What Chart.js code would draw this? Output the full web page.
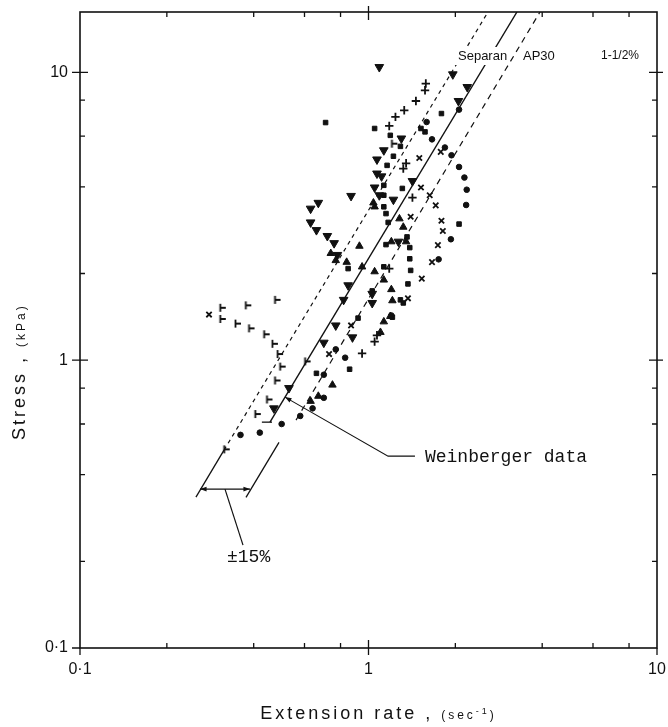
<!DOCTYPE html>
<html>
<head>
<meta charset="utf-8">
<script src="https://cdn.jsdelivr.net/npm/chart.js@4/dist/chart.umd.min.js"></script>
<style>
html, body { margin: 0; padding: 0; background: #fff; }
#wrap { width: 668px; height: 727px; position: relative; }
</style>
</head>
<body>
<div id="wrap"><canvas id="myChart"></canvas></div>
<script>
// tick labels
var xTicks = [0.1, 1, 10];
var xTickLabels = ['0·1', '1', '10'];
var yTicks = [0.1, 1, 10];
var yTickLabels = ['0·1', '1', '10'];
var minorSteps = [2, 4, 6, 8];

// measured points, [extension rate, stress]
var downTri = [[1.09,10.43],[1.96,9.84],[2.20,8.89],[2.05,7.95],[1.30,5.89],[1.13,5.36],[1.07,4.98],
  [1.07,4.45],[1.11,4.35],[1.42,4.19],[1.05,3.98],[0.87,3.72],[1.09,3.74],[1.22,3.61],[0.67,3.52],
  [0.63,3.36],[0.63,3.01],[0.66,2.83],[0.72,2.70],[0.76,2.55],[1.27,2.58],[0.78,2.32],[0.85,1.82],
  [1.03,1.70],[1.03,1.58],[0.82,1.62],[0.77,1.32],[0.88,1.20],[0.70,1.15],[0.53,0.80],[0.47,0.68]];
var upTri = [[1.04,3.52],[1.05,3.41],[1.28,3.10],[1.32,2.90],[0.93,2.49],[1.35,2.58],[0.74,2.35],
  [0.84,2.19],[0.77,2.22],[0.95,2.11],[1.05,2.03],[1.13,1.90],[1.20,1.76],[1.21,1.61],[1.19,1.42],
  [1.13,1.36],[1.10,1.25],[0.75,0.82],[0.67,0.75],[0.63,0.72],[1.20,2.58]];
var squares = [[0.71,6.69],[1.79,7.19],[1.05,6.38],[1.52,6.38],[1.57,6.21],[1.19,6.04],[1.29,5.53],
  [1.22,5.11],[1.16,4.75],[1.13,4.05],[1.31,3.95],[1.13,3.74],[1.13,3.41],[1.15,3.23],[1.17,3.01],
  [2.06,2.97],[1.36,2.68],[1.15,2.52],[1.39,2.46],[1.39,2.25],[0.85,2.08],[1.40,2.05],[1.13,2.11],
  [1.37,1.84],[1.03,1.74],[1.29,1.62],[1.32,1.58],[0.92,1.40],[1.21,1.41],[0.86,0.93],[0.66,0.90]];
var circles = [[2.06,7.42],[1.59,6.72],[1.66,5.85],[1.84,5.48],[1.94,5.15],[2.06,4.69],[2.15,4.31],
  [2.19,3.91],[2.18,3.46],[1.93,2.63],[1.75,2.24],[1.20,1.43],[0.77,1.09],[0.83,1.02],[0.70,0.89],
  [0.70,0.74],[0.64,0.68],[0.58,0.64],[0.50,0.60],[0.42,0.56],[0.36,0.55]];
var plusPts = [[1.58,9.14],[1.57,8.66],[1.46,7.95],[1.33,7.38],[1.24,7.00],[1.18,6.51],[1.42,3.67],
  [1.18,2.08],[1.35,4.83],[1.32,4.63],[0.95,1.055],[1.07,1.22],[1.05,1.16]];
var crossPts = [[1.78,5.29],[1.50,5.04],[1.52,3.98],[1.63,3.74],[1.71,3.45],[1.40,3.15],[1.79,3.05],
  [1.81,2.81],[1.74,2.51],[1.66,2.19],[1.53,1.92],[1.37,1.64],[0.87,1.32],[0.73,1.05],[0.28,1.44]];
var tickPts = [[1.22,5.65],[0.31,1.52],[0.38,1.55],[0.48,1.62],[0.31,1.39],[0.35,1.34],[0.39,1.29],
  [0.44,1.23],[0.47,1.14],[0.49,1.05],[0.50,0.95],[0.48,0.85],[0.45,0.73],[0.41,0.65],[0.32,0.49],
  [0.61,0.99]];

// Weinberger line and the +/-15% band
var weinLine = [[0.4556,0.609],[3.27,16.2]];
var weinFoot = [[0.427,0.609],[0.463,0.609]];
var bandLowSolid = [[0.2523,0.3344],[0.3156,0.487]];
var bandLowDash = [[0.3156,0.487],[2.595,16.2]];
var bandHighSolid = [[0.3762,0.3337],[0.4895,0.5178]];
var bandHighDash = [[0.5607,0.619],[3.93,16.2]];
var weinLeader = [[0.5135,0.744],[1.169,0.464],[1.449,0.464]];
var bandBar = [[0.2606,0.3565],[0.3884,0.3565]];
var bandLeader = [[0.3181,0.3565],[0.3673,0.2278]];

function toXY(arr) {
  return arr.map(function(p) { return {x: p[0], y: p[1]}; });
}

var ink = '#111';

// little "|-" marker
var tickMark = document.createElement('canvas');
tickMark.width = 10; tickMark.height = 10;
(function() {
  var c = tickMark.getContext('2d');
  c.strokeStyle = ink; c.lineWidth = 1.8;
  c.beginPath();
  c.moveTo(3.5, 1); c.lineTo(3.5, 9);
  c.moveTo(3.5, 5); c.lineTo(9, 5);
  c.stroke();
})();

function pts(arr, style, r, extra) {
  var d = {data: toXY(arr), pointStyle: style, pointRadius: r, backgroundColor: ink,
    borderColor: ink, pointBorderWidth: 1, showLine: false};
  for (var k in extra) d[k] = extra[k];
  return d;
}
function seg(arr, dash, w) {
  return {data: toXY(arr), showLine: true, pointRadius: 0, borderColor: ink,
    borderWidth: w || 1.3, borderDash: dash || [], fill: false};
}

var frame = {
  id: 'frame',
  afterDatasetsDraw: function(chart) {
    var ctx = chart.ctx, a = chart.chartArea;
    var xs = chart.scales.x, ys = chart.scales.y;
    ctx.save();

    // label sits in a gap of the lines
    ctx.fillStyle = '#fff';
    ctx.fillRect(455, 47, 55, 18);

    ctx.strokeStyle = ink;
    ctx.lineWidth = 1.6;
    ctx.strokeRect(a.left, a.top, a.right - a.left, a.bottom - a.top);

    ctx.lineWidth = 1.3;
    ctx.beginPath();
    [0.1, 1].forEach(function(dec) {
      minorSteps.forEach(function(m) {
        var px = xs.getPixelForValue(dec * m);
        ctx.moveTo(px, a.bottom); ctx.lineTo(px, a.bottom - 5);
        ctx.moveTo(px, a.top); ctx.lineTo(px, a.top + 5);
      });
    });
    [0.1, 1, 10].forEach(function(dec) {
      minorSteps.forEach(function(m) {
        var v = dec * m;
        if (v > ys.max) return;
        var py = ys.getPixelForValue(v);
        ctx.moveTo(a.left, py); ctx.lineTo(a.left + 5, py);
        ctx.moveTo(a.right, py); ctx.lineTo(a.right - 5, py);
      });
    });
    xTicks.forEach(function(v, i) {
      var px = xs.getPixelForValue(v);
      ctx.moveTo(px, a.bottom + 7);
      ctx.lineTo(px, i === 0 || i === xTicks.length - 1 ? a.bottom : a.bottom - 8);
      if (i > 0 && i < xTicks.length - 1) {
        ctx.moveTo(px, a.top - 6); ctx.lineTo(px, a.top + 8);
      }
    });
    yTicks.forEach(function(v, i) {
      var py = ys.getPixelForValue(v);
      ctx.moveTo(a.left - 8, py);
      ctx.lineTo(i === 0 ? a.left : a.left + 8, py);
      if (i > 0) { ctx.moveTo(a.right - 8, py); ctx.lineTo(a.right + 6, py); }
    });
    ctx.stroke();

    // arrowheads
    function arrow(x0, y0, x1, y1) {
      var ang = Math.atan2(y1 - y0, x1 - x0);
      ctx.beginPath();
      ctx.moveTo(x1, y1);
      ctx.lineTo(x1 - 7 * Math.cos(ang - 0.35), y1 - 7 * Math.sin(ang - 0.35));
      ctx.lineTo(x1 - 7 * Math.cos(ang + 0.35), y1 - 7 * Math.sin(ang + 0.35));
      ctx.closePath();
      ctx.fillStyle = ink;
      ctx.fill();
    }
    function P(p) { return [xs.getPixelForValue(p[0]), ys.getPixelForValue(p[1])]; }
    var w0 = P(weinLeader[1]), w1 = P(weinLeader[0]);
    arrow(w0[0], w0[1], w1[0], w1[1]);
    var b0 = P(bandBar[0]), b1 = P(bandBar[1]);
    arrow(b1[0], b1[1], b0[0], b0[1]);
    arrow(b0[0], b0[1], b1[0], b1[1]);

    ctx.fillStyle = ink;
    ctx.textBaseline = 'middle';

    // tick labels
    ctx.font = '16px "Liberation Sans", Arial, sans-serif';
    ctx.textAlign = 'center';
    xTicks.forEach(function(v, i) {
      ctx.fillText(xTickLabels[i], xs.getPixelForValue(v), a.bottom + 22);
    });
    ctx.textAlign = 'right';
    yTicks.forEach(function(v, i) {
      ctx.fillText(yTickLabels[i], a.left - 12, ys.getPixelForValue(v));
    });

    // annotations
    ctx.textAlign = 'left';
    ctx.font = '13px "Liberation Sans", Arial, sans-serif';
    ctx.fillText('Separan', 458, 56);
    ctx.fillText('AP30', 523, 56);
    ctx.font = '12px "Liberation Sans", Arial, sans-serif';
    ctx.fillText('1-1/2%', 601, 56);
    ctx.font = '18px "Liberation Mono", "Courier New", monospace';
    var wl = P(weinLeader[2]);
    ctx.fillText('Weinberger data', wl[0] + 10, wl[1] + 1);
    var bl = P(bandLeader[1]);
    ctx.fillText('±15%', bl[0] - 16, bl[1] + 12);

    // axis titles
    ctx.textBaseline = 'alphabetic';
    ctx.letterSpacing = '3px';
    ctx.font = '18px "Liberation Sans", Arial, sans-serif';
    var t1 = 'Extension rate , ';
    var w1 = ctx.measureText(t1).width;
    ctx.font = '12px "Liberation Sans", Arial, sans-serif';
    var wA = ctx.measureText('(sec').width;
    ctx.font = '9px "Liberation Sans", Arial, sans-serif';
    var wB = ctx.measureText('-1').width;
    ctx.font = '12px "Liberation Sans", Arial, sans-serif';
    var wC = ctx.measureText(')').width;
    var sx = (a.left + a.right) / 2 - (w1 + wA + wB + wC) / 2 + 10, by = 719;
    ctx.font = '18px "Liberation Sans", Arial, sans-serif';
    ctx.fillText(t1, sx, by);
    ctx.font = '12px "Liberation Sans", Arial, sans-serif';
    ctx.fillText('(sec', sx + w1, by);
    ctx.font = '9px "Liberation Sans", Arial, sans-serif';
    ctx.fillText('-1', sx + w1 + wA, by - 5);
    ctx.font = '12px "Liberation Sans", Arial, sans-serif';
    ctx.fillText(')', sx + w1 + wA + wB, by);

    ctx.translate(25, 440);
    ctx.rotate(-Math.PI / 2);
    ctx.font = '18px "Liberation Sans", Arial, sans-serif';
    var t2 = 'Stress , ';
    ctx.fillText(t2, 0, 0);
    var w2 = ctx.measureText(t2).width;
    ctx.font = '12px "Liberation Sans", Arial, sans-serif';
    ctx.fillText('(kPa)', w2, 0);
    ctx.restore();
  }
};

var config = {
  type: 'scatter',
  data: {
    datasets: [
      seg(weinLine, [], 1.4),
      seg(weinFoot, [], 1.3),
      seg(bandLowSolid, [], 1.3),
      seg(bandLowDash, [4, 4], 1.2),
      seg(bandHighSolid, [], 1.3),
      seg(bandHighDash, [6, 5], 1.2),
      seg(weinLeader, [], 1.1),
      seg(bandBar, [], 1.3),
      seg(bandLeader, [], 1.2),
      pts(downTri, 'triangle', 5, {rotation: 180}),
      pts(upTri, 'triangle', 4.3, {}),
      pts(squares, 'rect', 3.2, {}),
      pts(circles, 'circle', 2.8, {}),
      pts(plusPts, 'cross', 4.2, {pointBorderWidth: 1.8}),
      pts(crossPts, 'crossRot', 3.8, {pointBorderWidth: 1.8}),
      pts(tickPts, tickMark, 4, {})
    ]
  },
  options: {
    animation: false,
    responsive: true,
    maintainAspectRatio: false,
    layout: { padding: { left: 80, right: 11, top: 12, bottom: 79 } },
    plugins: { legend: { display: false }, tooltip: { enabled: false } },
    scales: {
      x: { type: 'logarithmic', min: 0.1, max: 10, display: false },
      y: { type: 'logarithmic', min: 0.1, max: 16.2, display: false }
    }
  },
  plugins: [frame]
};

window.onload = function() {
  var ctx = document.getElementById('myChart').getContext('2d');
  window.myChart = new Chart(ctx, config);
};
</script>
</body>
</html>
